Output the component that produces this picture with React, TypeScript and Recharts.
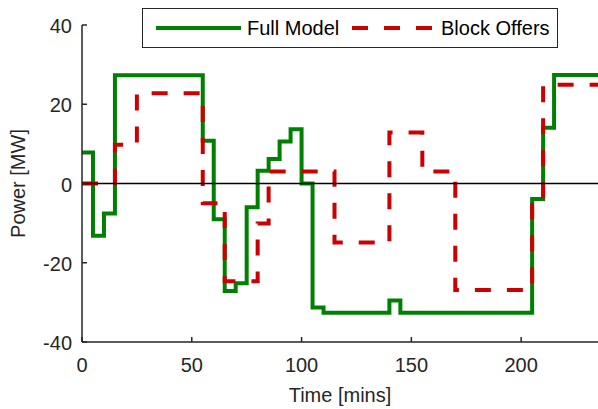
import { LineChart, Line, XAxis, YAxis, Legend, ReferenceLine, Label } from 'recharts'

const fullTimes = [0, 5, 10, 15, 55, 60, 65, 70, 75, 80, 85, 90, 95, 100, 105, 110, 140, 145, 205, 210, 215, 235]
const fullPower = [7.8, -13.2, -7.6, 27.3, 10.8, -9, -27.1, -25.2, -6, 3.2, 6.2, 10.6, 13.7, 0, -31.3, -32.6, -29.5, -32.6, -3.9, 14.1, 27.4, 27.4]

const blockTimes = [0, 15, 25, 55, 65, 80, 85, 115, 140, 155, 170, 205, 210, 235]
const blockPower = [0, 9.8, 22.8, -5, -24.7, -10.1, 3, -14.9, 12.9, 3, -26.9, -4.2, 24.9, 24.9]

const xTicks = [0, 50, 100, 150, 200]
const yTicks = [-40, -20, 0, 20, 40]

const fullData = fullTimes.map((t, i) => ({ time: t, power: fullPower[i] }))
const blockData = blockTimes.map((t, i) => ({ time: t, power: blockPower[i] }))

const FONT = '"Liberation Sans", Arial, Helvetica, sans-serif'
const GREEN = '#008000'
const RED = '#cc0000'
const AXIS = '#262626'

function LegendBox() {
  return (
    <div
      style={{
        position: 'relative',
        width: 416,
        height: 40,
        boxSizing: 'border-box',
        border: '1px solid #262626',
        background: '#fff',
        fontFamily: FONT,
        fontSize: 20,
        color: '#000',
      }}
    >
      <svg style={{ position: 'absolute', left: 0, top: 0 }} width={414} height={38}>
        <line x1={13} x2={98} y1={19} y2={19} stroke={GREEN} strokeWidth={4} />
        <line x1={209} x2={290} y1={19} y2={19} stroke={RED} strokeWidth={4} strokeDasharray="16 16" />
      </svg>
      <span style={{ position: 'absolute', left: 104, top: 0, lineHeight: '38px', whiteSpace: 'nowrap' }}>Full Model</span>
      <span style={{ position: 'absolute', left: 298, top: 0, lineHeight: '38px', whiteSpace: 'nowrap' }}>Block Offers</span>
    </div>
  )
}

export default function App() {
  return (
    <div style={{ position: 'absolute', left: 0, top: 0, background: '#fff' }}>
      <LineChart width={598} height={409} margin={{ top: 25, right: 0, bottom: 0, left: 0 }}>
        <XAxis
          type="number"
          dataKey="time"
          domain={[0, 235]}
          ticks={xTicks}
          height={67}
          tickSize={-5}
          tickMargin={21}
          axisLine={{ stroke: AXIS, strokeWidth: 1.5 }}
          tickLine={{ stroke: AXIS, strokeWidth: 1.5 }}
          tick={{ fill: AXIS, fontSize: 20, fontFamily: FONT }}
        >
          <Label value="Time [mins]" position="insideBottom" offset={7} style={{ fill: AXIS, fontSize: 20, fontFamily: FONT }} />
        </XAxis>
        <YAxis
          type="number"
          domain={[-40, 40]}
          ticks={yTicks}
          width={82}
          tickSize={-5}
          tickMargin={15}
          axisLine={{ stroke: AXIS, strokeWidth: 1.5 }}
          tickLine={{ stroke: AXIS, strokeWidth: 1.5 }}
          tick={{ fill: AXIS, fontSize: 20, fontFamily: FONT, dy: 1 }}
        >
          <Label
            value="Power [MW]"
            angle={-90}
            position="insideLeft"
            offset={18}
            style={{ fill: AXIS, fontSize: 20, fontFamily: FONT, textAnchor: 'middle' }}
          />
        </YAxis>
        <Legend
          layout="horizontal"
          verticalAlign="middle"
          align="center"
          wrapperStyle={{ left: 142, top: 8, width: 416, height: 40 }}
          content={() => <LegendBox />}
        />
        <Line
          data={fullData}
          dataKey="power"
          type="stepAfter"
          stroke={GREEN}
          strokeWidth={4}
          dot={false}
          activeDot={false}
          isAnimationActive={false}
        />
        <Line
          data={blockData}
          dataKey="power"
          type="stepAfter"
          stroke={RED}
          strokeWidth={4}
          strokeDasharray="16 16"
          dot={false}
          activeDot={false}
          isAnimationActive={false}
        />
        <ReferenceLine y={0} stroke="#000" strokeWidth={1.3} />
      </LineChart>
    </div>
  )
}
